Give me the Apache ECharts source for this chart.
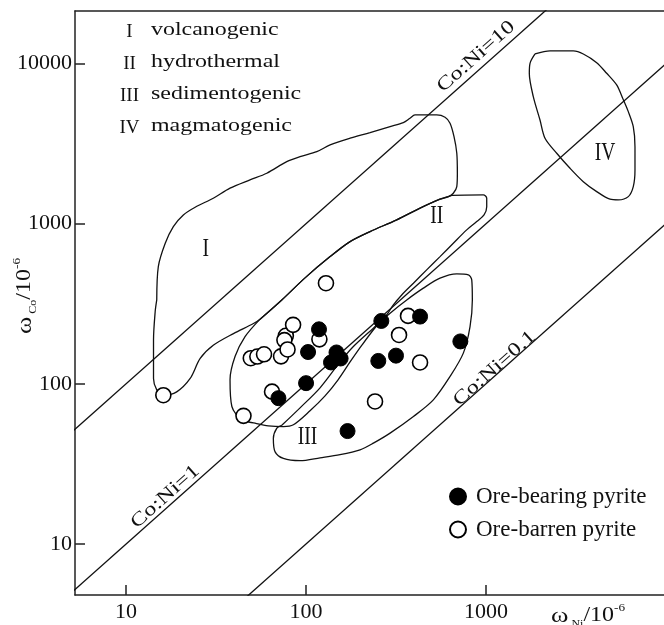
<!DOCTYPE html>
<html><head><meta charset="utf-8">
<script src="https://cdn.jsdelivr.net/npm/echarts@6/dist/echarts.min.js"></script>
<style>html,body{margin:0;padding:0;background:#fff}#c{width:664px;height:625px}</style>
</head><body><div id="c"></div>
<script>
// ---- data (Ni ppm, Co ppm) ----
const oreBearing = [[70.2,81.4],[100,101],[102.6,158],[118,219],[137.6,136],[147.6,157],[155.6,144],[170,50.7],[252,139],[262,247],[316,150],[430,263],[720,184]];
const oreBarren = [[16.1,84.9],[44.9,63.1],[49.3,144.6],[53.6,148],[58.4,153],[64.7,89.4],[72.6,148.5],[77.2,199.6],[75.8,187.5],[78.9,164],[84.7,233.5],[118.6,189.6],[129,425],[241.7,77.6],[328.6,202],[368.6,265.7],[430,136]];
const seriesNames = ['Ore-bearing pyrite','Ore-barren pyrite'];
const ratioLines = [10, 1, 0.1];
const ratioLabels = ['Co:Ni=10','Co:Ni=1','Co:Ni=0.1'];
const ratioLabelAnchor = [[880,11040],[16.5,19.7],[1115,124.6]];
const xTicks = [10,100,1000];
const yTicks = [10,100,1000,10000];
const regionNumerals = ['I','II','III','IV'];
const regionNames = ['volcanogenic','hydrothermal','sedimentogenic','magmatogenic'];
const regionLabelAnchor = [[27.7,696],[532,1108],[101.7,46.7],[4583,2754]];
const regionI = [[14.8,334],[15.1,540],[16.5,755],[18.3,959],[20.8,1135],[24.2,1268],[30.5,1443],[37.8,1667],[48.8,1877],[60.5,2066],[78.1,2441],[92.6,2624],[114.7,2818],[136,3105],[175.6,3418],[226.8,3704],[293,4038],[347,4276],[378,4555],[403,4777],[532,4777],[592,4621],[631,4240],[664,3497],[688,2754],[693,2066],[688,1705],[658,1550],[618,1476],[555,1422],[430,1250],[319,1057],[226.8,893],[175.6,773],[136,623],[98.7,459],[73.3,334],[55.5,253.5],[51,238],[39.5,206],[30.5,174],[25.8,144],[22.7,108],[19.1,89.1],[16.1,85],[14.8,91.7],[14.2,108],[14.2,188],[14.5,281],[14.8,334]];
const regionII = [[55.5,253.5],[73.3,334],[98.7,459],[136,623],[175.6,773],[226.8,893],[319,1057],[430,1250],[555,1422],[618,1476],[647,1502],[966,1513],[1009,1443],[1009,1278],[975,1135],[888,1031],[781,915],[658,755],[555,623],[468,515],[395,425],[340,359],[305.5,311],[281,270],[241.7,224],[204.7,175],[175.6,137],[150.6,106],[127.5,84.1],[105.2,67.9],[85,55.5],[74.8,54.1],[61.7,54.7],[52.1,56.8],[43.9,59.6],[38.7,72.2],[37.8,106],[40.3,148],[45.8,197],[55.5,253.5]];
const regionIII = [[73.3,55.1],[92.6,70.8],[119.6,94.4],[154.5,137],[183.2,171],[236.6,222.7],[293,276.3],[362.6,334],[448.5,395.8],[555,456.8],[688,486],[797.4,479],[833,446],[839.5,334],[815,227.9],[748,155.5],[631,111.1],[509.6,79.4],[395,62.5],[293,49.2],[236.6,42.6],[199.5,38.7],[154.5,36.1],[119.6,34.5],[92.6,33.1],[74.8,34.2],[67.3,37.6],[65.8,45.6],[68.8,52.9],[73.3,55.1]];
const regionIV = [[1872,11480],[2268,11990],[3055,11990],[3472,11480],[4121,10130],[4683,8699],[5321,7353],[5746,6074],[6175,5010],[6581,4038],[6726,3029],[6726,2167],[6581,1705],[6175,1476],[5433,1408],[4885,1422],[4121,1587],[3472,1831],[2929,2220],[2471,2754],[2127,3418],[1995,4446],[1831,6215],[1740,8699],[1756,10040],[1872,11480]];
const regions = [regionI, regionII, regionIII, regionIV];

const SERIF = '"Liberation Serif","Times New Roman",serif';
const INK = '#111';
const chart = echarts.init(document.getElementById('c'), null, {renderer:'canvas'});

const lineSeries = ratioLines.map((r, i) => ({
  name: ratioLabels[i], type: 'line', data: [[0.5, 0.5*r], [100000, 100000*r]],
  symbol: 'none', silent: true, clip: true, z: 2,
  lineStyle: {color: INK, width: 1.3}
}));
const regionSeries = regions.map((d, i) => ({
  name: 'region' + regionNumerals[i], type: 'line', data: d, symbol: 'none', smooth: 0.3,
  silent: true, clip: true, z: 2, lineStyle: {color: INK, width: 1.3}
}));

chart.setOption({
  animation: false,
  backgroundColor: '#fff',
  grid: {left: 75, right: 0, top: 11, bottom: 30, containLabel: false},
  xAxis: [{
    type: 'log', logBase: 10, min: 5.2, max: 9750,
    axisLine: {show: true, onZero: false, lineStyle: {color: '#222', width: 1.5}},
    axisTick: {show: true, inside: true, length: 10, customValues: xTicks, lineStyle: {color: '#222', width: 1.5}},
    axisLabel: {customValues: xTicks, margin: 6, color: INK, fontSize: 22, fontFamily: SERIF, formatter: v => String(Math.round(v))},
    splitLine: {show: false}, minorTick: {show: false}
  }, {
    type: 'value', position: 'top', min: 0, max: 1,
    axisLine: {show: true, onZero: false, lineStyle: {color: '#222', width: 1.5}},
    axisTick: {show: false}, axisLabel: {show: false}, splitLine: {show: false}
  }],
  yAxis: {
    type: 'log', logBase: 10, min: 4.8, max: 21300,
    axisLine: {show: true, onZero: false, lineStyle: {color: '#222', width: 1.5}},
    axisTick: {show: true, inside: true, length: 10, customValues: yTicks, lineStyle: {color: '#222', width: 1.5}},
    axisLabel: {customValues: yTicks, margin: 3, color: INK, fontSize: 22, fontFamily: SERIF, formatter: v => String(Math.round(v))},
    splitLine: {show: false}, minorTick: {show: false}
  },
  legend: {
    data: seriesNames, orient: 'vertical', left: 444, top: 480,
    itemWidth: 26, itemHeight: 16, itemGap: 10, icon: 'circle',
    textStyle: {fontSize: 23, lineHeight: 22, fontFamily: SERIF, color: INK},
    selectedMode: false
  },
  series: [
    ...lineSeries, ...regionSeries,
    {name: seriesNames[1], type: 'scatter', data: oreBarren, symbol: 'circle', symbolSize: 15, z: 5,
     itemStyle: {color: '#fff', borderColor: '#000', borderWidth: 1.6, opacity: 1}},
    {name: seriesNames[0], type: 'scatter', data: oreBearing, symbol: 'circle', symbolSize: 15, z: 6,
     itemStyle: {color: '#000', borderColor: '#000', borderWidth: 1, opacity: 1}}
  ]
});

// ---- annotations ----
const g = [];
const rowY = [30, 62, 94, 126];
regionNames.forEach((nm, i) => {
  g.push({type: 'text', x: 129.5, y: rowY[i] + 2, z: 10,
    style: {text: regionNumerals[i], font: '19px ' + SERIF, fill: INK, align: 'center', verticalAlign: 'middle', textAlign: 'center', textVerticalAlign: 'middle'}});
  g.push({type: 'text', x: 151, y: rowY[i], scaleX: 1.33, z: 10,
    style: {text: nm, font: '18px ' + SERIF, fill: INK, align: 'left', verticalAlign: 'middle', textAlign: 'left', textVerticalAlign: 'middle'}});
});
regionLabelAnchor.forEach((p, i) => {
  const px = chart.convertToPixel({gridIndex: 0}, p);
  g.push({type: 'text', x: px[0], y: px[1], scaleX: 0.75, z: 10,
    style: {text: regionNumerals[i], font: '26px ' + SERIF, fill: INK, align: 'center', verticalAlign: 'middle', textAlign: 'center', textVerticalAlign: 'middle'}});
});
ratioLabelAnchor.forEach((p, i) => {
  const px = chart.convertToPixel({gridIndex: 0}, p);
  const a = chart.convertToPixel({gridIndex: 0}, [10, 10*ratioLines[i]]);
  const b = chart.convertToPixel({gridIndex: 0}, [1000, 1000*ratioLines[i]]);
  const ang = Math.atan2(a[1]-b[1], b[0]-a[0]);
  g.push({type: 'text', x: px[0], y: px[1], rotation: ang, scaleX: 1.28, z: 10,
    style: {text: ratioLabels[i], font: '19px ' + SERIF, fill: INK, align: 'center', verticalAlign: 'middle', textAlign: 'center', textVerticalAlign: 'middle'}});
});
const richT = {
  a: {fontSize: 20, fontFamily: SERIF, fill: INK, lineHeight: 26, verticalAlign: 'middle'},
  w: {fontSize: 22, fontFamily: SERIF, fill: INK, lineHeight: 26, verticalAlign: 'middle'},
  b: {fontSize: 10, fontFamily: SERIF, fill: INK, lineHeight: 26, verticalAlign: 'bottom'},
  c: {fontSize: 11, fontFamily: SERIF, fill: INK, lineHeight: 26, verticalAlign: 'top'}
};
g.push({type: 'text', x: 551, y: 616, scaleX: 1.2, z: 10,
  style: {text: '{w|ω}{b| Ni}{a|/10}{c|-6}', rich: richT, align: 'left', verticalAlign: 'middle', textAlign: 'left', textVerticalAlign: 'middle'}});
g.push({type: 'text', x: 25, y: 296, rotation: Math.PI/2, scaleX: 1.2, z: 10,
  style: {text: '{w|ω}{b| Co}{a|/10}{c|-6}', rich: richT, align: 'center', verticalAlign: 'middle', textAlign: 'center', textVerticalAlign: 'middle'}});
chart.setOption({graphic: {elements: g}});
</script></body></html>
